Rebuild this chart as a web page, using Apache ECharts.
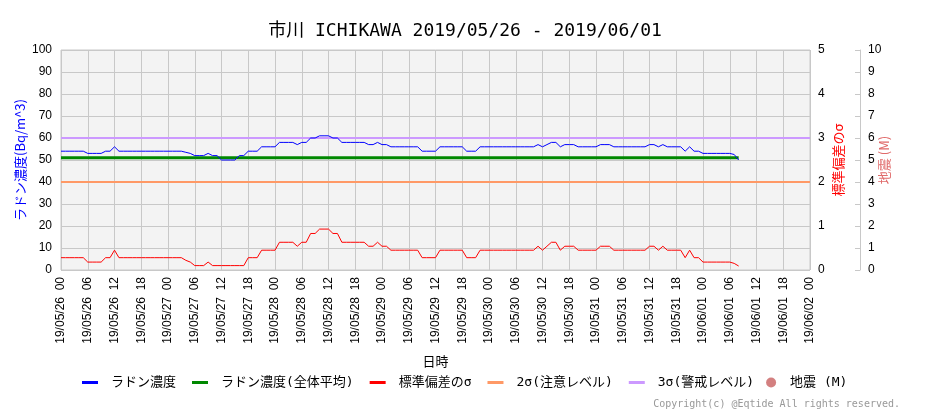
<!DOCTYPE html>
<html>
<head>
<meta charset="utf-8">
<script src="https://cdn.jsdelivr.net/npm/echarts@6/dist/echarts.min.js"></script>
<style>html,body{margin:0;padding:0;background:#fff;}#c{width:930px;height:410px;}</style>
</head>
<body>
<div id="c"></div>
<script>
// ---- data (hourly, hour 0 = 2019/05/26 00:00) ----
const tickLabels = [
  '19/05/26  00','19/05/26  06','19/05/26  12','19/05/26  18',
  '19/05/27  00','19/05/27  06','19/05/27  12','19/05/27  18',
  '19/05/28  00','19/05/28  06','19/05/28  12','19/05/28  18',
  '19/05/29  00','19/05/29  06','19/05/29  12','19/05/29  18',
  '19/05/30  00','19/05/30  06','19/05/30  12','19/05/30  18',
  '19/05/31  00','19/05/31  06','19/05/31  12','19/05/31  18',
  '19/06/01  00','19/06/01  06','19/06/01  12','19/06/01  18',
  '19/06/02  00'
];
const radon = [
  54,54,54,54,54,54,53,53,53,53,
  54,54,56,54,54,54,54,54,54,54,
  54,54,54,54,54,54,54,54,53.5,53,
  52,52,52,53,52,52,50,50,50,50,
  52,52,54,54,54,56,56,56,56,58,
  58,58,58,57,58,58,60,60,61,61,
  61,60,60,58,58,58,58,58,58,57,
  57,58,57,57,56,56,56,56,56,56,
  56,54,54,54,54,56,56,56,56,56,
  56,54,54,54,56,56,56,56,56,56,
  56,56,56,56,56,56,56,57,56,57,
  58,58,56,57,57,57,56,56,56,56,
  56,57,57,57,56,56,56,56,56,56,
  56,56,57,57,56,57,56,56,56,56,
  54,56,54,54,53,53,53,53,53,53,
  53,52.5,50
];
const sigma = [
  0.28,0.28,0.28,0.28,0.28,0.28,0.18,0.18,0.18,0.18,
  0.28,0.28,0.45,0.28,0.28,0.28,0.28,0.28,0.28,0.28,
  0.28,0.28,0.28,0.28,0.28,0.28,0.28,0.28,0.22,0.18,
  0.10,0.10,0.10,0.18,0.10,0.10,0.10,0.10,0.10,0.10,
  0.10,0.10,0.28,0.28,0.28,0.45,0.45,0.45,0.45,0.63,
  0.63,0.63,0.63,0.54,0.63,0.63,0.83,0.83,0.93,0.93,
  0.93,0.83,0.83,0.63,0.63,0.63,0.63,0.63,0.63,0.54,
  0.54,0.63,0.54,0.54,0.45,0.45,0.45,0.45,0.45,0.45,
  0.45,0.28,0.28,0.28,0.28,0.45,0.45,0.45,0.45,0.45,
  0.45,0.28,0.28,0.28,0.45,0.45,0.45,0.45,0.45,0.45,
  0.45,0.45,0.45,0.45,0.45,0.45,0.45,0.54,0.45,0.54,
  0.63,0.63,0.45,0.54,0.54,0.54,0.45,0.45,0.45,0.45,
  0.45,0.54,0.54,0.54,0.45,0.45,0.45,0.45,0.45,0.45,
  0.45,0.45,0.54,0.54,0.45,0.54,0.45,0.45,0.45,0.45,
  0.28,0.45,0.28,0.28,0.18,0.18,0.18,0.18,0.18,0.18,
  0.18,0.15,0.09
];
const meanLevel = 51;      // ラドン濃度(全体平均)
const level2s = 40;        // 2σ(注意レベル)
const level3s = 60;        // 3σ(警戒レベル)
const totalHours = 168;
const quakes = [];         // 地震 (M): none in this period

const names = ['ラドン濃度','ラドン濃度(全体平均)','標準偏差のσ','2σ(注意レベル)','3σ(警戒レベル)','地震 (M)'];
const lineIcon = 'path://M0,0L0,0M28,10L28,10M4,3.5h16v3h-16z';

const lastHour = radon.length - 1;
const chart = echarts.init(document.getElementById('c'), null, {renderer:'canvas'});
const txt = 'Noto Sans CJK JP';
const mono = '"DejaVu Sans Mono", "Noto Sans CJK JP"';
chart.setOption({
  animation: false,
  backgroundColor: '#ffffff',
  title: {
    text: '市川 ICHIKAWA 2019/05/26 - 2019/06/01',
    left: 'center', top: 17,
    textStyle: {fontFamily: mono, fontSize: 18, fontWeight: 'normal', color: '#000'}
  },
  legend: {
    left: 78, top: 376, padding: 0,
    itemWidth: 28, itemHeight: 10, itemGap: 12,
    symbolKeepAspect: false,
    itemStyle: {borderWidth: 0},
    textStyle: {fontFamily: mono, fontSize: 13, color: '#000'},
    data: [
      {name: names[0], icon: lineIcon},
      {name: names[1], icon: lineIcon},
      {name: names[2], icon: lineIcon},
      {name: names[3], icon: lineIcon},
      {name: names[4], icon: lineIcon},
      {name: names[5], icon: 'circle'}
    ]
  },
  graphic: [{
    type: 'text', right: 30, top: 399,
    style: {text: 'Copyright(c) @Eqtide All rights reserved.', fill: '#999', font: '10px "DejaVu Sans Mono"'}
  }],
  grid: {
    left: 61, right: 120, top: 50, bottom: 140,
    show: true, backgroundColor: '#f3f3f3', borderColor: '#c8c8c8', borderWidth: 1
  },
  xAxis: {
    type: 'value', min: 0, max: totalHours, interval: 6,
    name: '日時', nameLocation: 'middle', nameGap: 85, nameMoveOverlap: false,
    nameTextStyle: {fontFamily: txt, fontSize: 13, color: '#000'},
    axisLine: {show: false}, axisTick: {show: false},
    splitLine: {show: true, lineStyle: {color: '#c8c8c8', width: 1}},
    axisLabel: {
      rotate: 90, margin: 7, fontFamily: 'Liberation Sans', fontSize: 12, color: '#000',
      formatter: v => tickLabels[Math.round(v / 6)] || ''
    }
  },
  yAxis: [
    {
      type: 'value', min: 0, max: 100, interval: 10, position: 'left',
      name: 'ラドン濃度(Bq/m^3)', nameLocation: 'middle', nameGap: 34, nameMoveOverlap: false,
      nameTextStyle: {fontFamily: txt, fontSize: 13, color: '#0000ff'},
      axisLine: {show: false}, axisTick: {show: false},
      splitLine: {show: true, lineStyle: {color: '#c8c8c8', width: 1}},
      axisLabel: {margin: 9, fontFamily: 'Liberation Sans', fontSize: 12, color: '#000'}
    },
    {
      type: 'value', min: 0, max: 5, interval: 1, position: 'right',
      name: '標準偏差のσ', nameLocation: 'middle', nameGap: 22, nameRotate: 90, nameMoveOverlap: false,
      nameTextStyle: {fontFamily: txt, fontSize: 13, color: '#ff0000'},
      axisLine: {show: false}, axisTick: {show: false}, splitLine: {show: false},
      axisLabel: {margin: 8, fontFamily: 'Liberation Sans', fontSize: 12, color: '#000'}
    },
    {
      type: 'value', min: 0, max: 10, interval: 1, position: 'right', offset: 50,
      name: '地震 (M)', nameLocation: 'middle', nameGap: 18, nameRotate: 90, nameMoveOverlap: false,
      nameTextStyle: {fontFamily: txt, fontSize: 13, color: '#e06a6a'},
      axisLine: {show: true, lineStyle: {color: '#c8c8c8'}},
      axisTick: {show: true, inside: true, length: 5, lineStyle: {color: '#c8c8c8'}},
      splitLine: {show: false},
      axisLabel: {margin: 8, fontFamily: 'Liberation Sans', fontSize: 12, color: '#000'}
    }
  ],
  series: [
    {
      name: names[0], type: 'line', yAxisIndex: 0, symbol: 'none', z: 5,
      color: '#0000ff', lineStyle: {color: '#0000ff', width: 1},
      data: radon.map((v, i) => [i, v])
    },
    {
      name: names[1], type: 'line', yAxisIndex: 0, symbol: 'none', z: 4,
      color: '#008800', lineStyle: {color: '#008800', width: 3},
      data: [[0, meanLevel], [lastHour, meanLevel]]
    },
    {
      name: names[2], type: 'line', yAxisIndex: 1, symbol: 'none', z: 5,
      color: '#ff0000', lineStyle: {color: '#ff0000', width: 1},
      data: sigma.map((v, i) => [i, v])
    },
    {
      name: names[3], type: 'line', yAxisIndex: 0, symbol: 'none', z: 3,
      color: '#ff9966', lineStyle: {color: '#ff9966', width: 2},
      data: [[0, level2s], [totalHours, level2s]]
    },
    {
      name: names[4], type: 'line', yAxisIndex: 0, symbol: 'none', z: 3,
      color: '#cc99ff', lineStyle: {color: '#cc99ff', width: 2},
      data: [[0, level3s], [totalHours, level3s]]
    },
    {
      name: names[5], type: 'scatter', yAxisIndex: 2, symbol: 'circle', symbolSize: 8,
      color: '#c86060', data: quakes
    }
  ]
});
</script>
</body>
</html>
